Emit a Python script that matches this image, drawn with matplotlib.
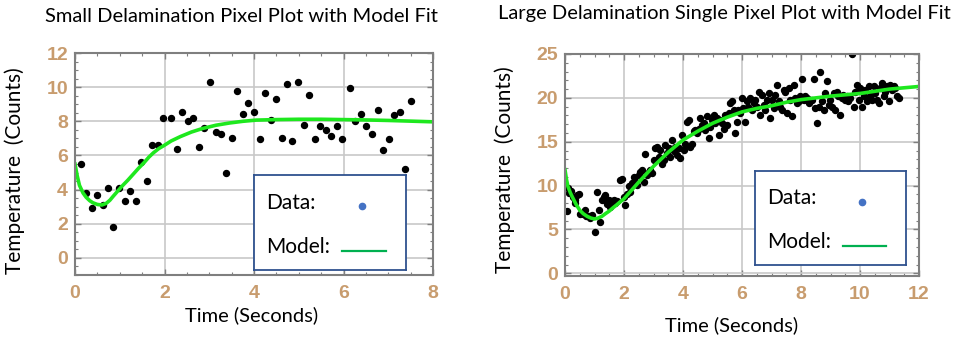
import matplotlib
matplotlib.use("Agg")
import matplotlib.pyplot as plt
from matplotlib.ticker import MultipleLocator

# ---- small delamination pixel (left panel) ----
small_t = [0.13, 0.25, 0.38, 0.50, 0.62, 0.74, 0.86, 0.98, 1.11, 1.23, 1.36, 1.48, 1.60,
           1.73, 1.85, 1.97, 2.15, 2.27, 2.39, 2.52, 2.64, 2.76, 2.88, 3.01, 3.14, 3.26,
           3.38, 3.51, 3.63, 3.75, 3.87, 4.00, 4.13, 4.25, 4.37, 4.49, 4.62, 4.74, 4.86,
           4.99, 5.11, 5.24, 5.36, 5.48, 5.61, 5.73, 5.85, 5.97, 6.14, 6.26, 6.38, 6.51,
           6.64, 6.76, 6.88, 7.01, 7.13, 7.26, 7.37, 7.50]
small_temp = [5.5, 3.8, 2.9, 3.7, 3.1, 4.1, 1.8, 4.1, 3.35, 3.9, 3.35, 5.6, 4.5,
              6.6, 6.6, 8.2, 8.2, 6.4, 8.55, 8.0, 8.2, 6.5, 7.6, 10.3, 7.4, 7.25,
              4.95, 7.05, 9.75, 8.45, 9.1, 8.55, 6.95, 9.65, 8.1, 9.3, 7.05, 10.2, 6.85,
              10.3, 7.8, 9.55, 6.95, 7.7, 7.5, 7.15, 7.7, 6.95, 9.95, 8.0, 8.45, 7.7,
              7.25, 8.65, 6.3, 6.95, 8.35, 8.55, 5.2, 9.2]
small_fit_t = [0.0, 0.05, 0.1, 0.18, 0.25, 0.33, 0.4, 0.5, 0.6, 0.7, 0.78, 0.85, 0.95,
               1.05, 1.18, 1.3, 1.42, 1.55, 1.65, 1.75, 1.87, 2.0, 2.15, 2.35, 2.6,
               2.85, 3.15, 3.45, 3.75, 4.05, 4.5, 5.0, 5.5, 6.0, 6.5, 7.0, 7.5, 8.0]
small_fit = [5.5, 4.8, 4.25, 3.8, 3.55, 3.35, 3.23, 3.13, 3.1, 3.2, 3.38, 3.6, 3.9,
             4.2, 4.55, 4.9, 5.25, 5.6, 5.9, 6.15, 6.4, 6.6, 6.85, 7.1, 7.37,
             7.58, 7.77, 7.9, 8.0, 8.07, 8.1, 8.12, 8.12, 8.1, 8.08, 8.05, 8.01, 7.97]

# ---- large delamination single pixel (right panel) ----
large_t = [0.07, 0.09, 0.15, 0.2, 0.27, 0.35, 0.4, 0.46, 0.35, 0.52, 0.61, 0.69, 0.72,
           0.8, 0.86, 0.91, 1.03, 1.08, 1.14, 1.2, 1.26, 1.31, 1.37, 1.42, 1.48, 1.54,
           1.59, 1.65, 1.71, 1.76, 1.85, 1.93, 1.99, 2.04, 2.1, 2.16, 2.21, 2.27, 2.33,
           2.38, 2.44, 2.5, 2.55, 2.61, 2.67, 2.72, 2.78, 2.84, 2.89, 2.95, 3.0, 3.06,
           3.12, 3.17, 3.23, 3.29, 3.34, 3.4, 3.46, 3.51, 3.57, 3.63, 3.68, 3.74, 3.79,
           3.85, 3.91, 3.96, 4.02, 4.08, 4.13, 4.19, 4.25, 4.3, 4.36, 4.42, 4.47, 4.53,
           4.59, 4.64, 4.7, 4.75, 4.81, 4.87, 4.92, 4.98, 5.04, 5.09, 5.15, 5.21, 5.26,
           5.32, 5.38, 5.43, 5.49, 5.55, 5.6, 5.66, 5.72, 5.77, 5.83, 5.88, 5.94, 6.0,
           6.05, 6.11, 6.17, 6.22, 6.28, 6.34, 6.39, 6.45, 6.51, 6.56, 6.62, 6.68, 6.73,
           6.79, 6.85, 6.9, 6.96, 7.01, 7.07, 7.13, 7.18, 7.24, 7.3, 7.35, 7.41, 7.47,
           7.52, 7.58, 7.64, 7.69, 7.75, 7.81, 7.86, 7.92, 7.98, 8.03, 8.09, 8.14, 8.2,
           8.26, 8.31, 8.37, 8.43, 8.48, 8.54, 8.6, 8.65, 8.71, 8.77, 8.82, 8.88, 8.94,
           8.99, 9.05, 9.11, 9.16, 9.22, 9.27, 9.33, 9.39, 9.44, 9.5, 9.56, 9.61, 9.67,
           9.73, 9.78, 9.84, 9.9, 9.95, 10.01, 10.07, 10.12, 10.18, 10.24, 10.29, 10.35,
           10.4, 10.46, 10.52, 10.57, 10.63, 10.69, 10.74, 10.8, 10.86, 10.91, 10.97,
           11.03, 11.08, 11.14, 11.2, 11.25, 11.31]
large_temp = [7.1, 9.7, 9.2, 9.4, 8.7, 8.4, 8.9, 9.05, 8.0, 6.8, 6.8, 7.2, 6.5,
              6.5, 6.3, 6.65, 4.75, 9.3, 7.2, 5.9, 8.4, 8.7, 8.9, 7.9, 8.4, 7.6,
              8.2, 8.4, 8.0, 8.2, 10.6, 10.8, 8.7, 7.8, 9.1, 9.9, 9.3, 10.3, 11.0,
              10.5, 10.1, 11.2, 11.6, 11.8, 10.4, 13.6, 11.2, 11.6, 11.8, 11.4, 12.9, 14.3,
              14.4, 13.3, 14.1, 12.5, 12.9, 14.6, 13.7, 14.3, 13.3, 15.2, 13.9, 14.4, 13.5,
              14.3, 13.1, 15.8, 14.1, 14.8, 17.3, 17.5, 14.4, 14.8, 16.2, 16.3, 16.0, 16.5,
              17.7, 16.9, 17.1, 16.3, 17.9, 15.4, 16.7, 17.5, 18.1, 17.1, 17.7, 15.8, 17.5,
              17.1, 16.5, 18.1, 16.9, 18.3, 19.4, 19.6, 18.6, 16.0, 17.3, 18.6, 18.3, 20.0,
              18.8, 17.3, 19.6, 19.0, 20.0, 18.6, 19.4, 19.8, 19.0, 20.7, 18.1, 20.3, 19.2,
              18.6, 19.8, 20.5, 17.7, 19.8, 18.8, 20.3, 21.5, 19.6, 19.0, 18.6, 20.9, 20.7,
              18.3, 21.1, 19.8, 17.9, 21.5, 20.0, 19.4, 19.6, 20.2, 22.1, 19.8, 20.2, 20.0,
              19.4, 19.8, 19.8, 22.1, 18.8, 17.1, 19.0, 23.0, 19.6, 18.6, 20.5, 21.9, 19.2,
              19.8, 19.0, 20.5, 18.6, 20.7, 20.2, 18.1, 20.0, 20.3, 19.8, 20.2, 19.6, 20.0,
              25.0, 19.0, 20.7, 21.5, 19.8, 21.1, 19.0, 20.2, 20.9, 19.6, 21.3, 20.2,
              19.8, 21.3, 20.5, 19.8, 19.4, 21.1, 21.7, 20.2, 20.7, 21.3, 19.6, 21.5,
              20.9, 21.3, 21.1, 20.2, 20.0]
large_fit_t = [0.0, 0.05, 0.1, 0.18, 0.25, 0.37, 0.5, 0.62, 0.75, 0.88, 1.0, 1.12,
               1.25, 1.37, 1.5, 1.62, 1.75, 1.87, 2.0, 2.25, 2.5, 2.75, 3.0, 3.25, 3.5,
               3.75, 4.0, 4.5, 5.0, 5.5, 6.0, 6.5, 7.0, 7.5, 8.0, 8.5, 9.0, 9.5, 10.0,
               10.5, 11.0, 11.5, 12.0]
large_fit = [11.8, 10.7, 9.9, 9.2, 8.7, 7.9, 7.2, 6.8, 6.5, 6.3, 6.2, 6.3,
             6.5, 6.8, 7.1, 7.45, 7.8, 8.15, 8.5, 9.45, 10.4, 11.3, 12.2, 13.0, 13.8,
             14.5, 15.2, 16.2, 17.1, 17.8, 18.4, 18.8, 19.1, 19.5, 19.8, 20.0, 20.2,
             20.35, 20.5, 20.75, 21.0, 21.15, 21.3]

W, H = 957, 340
tick_color = "#c89c6e"
text_font = ["Lato", "DejaVu Sans"]
tick_font = ["Liberation Sans", "DejaVu Sans"]
frame_color = "#7f7f7f"
grid_color = "#c8c8c8"
fit_color = "#1ee81e"


def fx(px):
    return px / W


def fy(py):
    return 1 - py / H


def style_axes(ax, xmax, ymin, ymax, ymaj, ymin_step):
    ax.set_xlim(0, xmax)
    ax.set_ylim(ymin, ymax)
    ax.xaxis.set_major_locator(MultipleLocator(2))
    ax.xaxis.set_minor_locator(MultipleLocator(0.5))
    ax.yaxis.set_major_locator(MultipleLocator(ymaj))
    ax.yaxis.set_minor_locator(MultipleLocator(ymin_step))
    ax.grid(True, which="major", color=grid_color, linewidth=1.2)
    ax.set_axisbelow(True)
    for s in ax.spines.values():
        s.set_color(frame_color)
        s.set_linewidth(1.5)
    ax.tick_params(which="both", direction="in", top=True, right=True, color=frame_color)
    ax.tick_params(which="major", length=4, width=1)
    ax.tick_params(which="minor", length=2.5, width=0.8)
    ax.tick_params(axis="x", pad=7, labelcolor=tick_color, labelsize=14)
    ax.tick_params(axis="y", pad=5, labelcolor=tick_color, labelsize=14)
    for lab in ax.get_xticklabels() + ax.get_yticklabels():
        lab.set_family(tick_font)
        lab.set_fontweight("bold")


def add_legend(box):
    x0, y0, x1, y1 = box
    lg = fig.add_axes([fx(x0), fy(y1), fx(x1 - x0), (y1 - y0) / H])
    lg.set_xlim(0, 1)
    lg.set_ylim(0, 1)
    lg.set_xticks([])
    lg.set_yticks([])
    for s in lg.spines.values():
        s.set_color("#2f528f")
        s.set_linewidth(1.3)
    lg.text(0.08, 0.71, "Data:", family=text_font, fontsize=15, va="center")
    lg.text(0.08, 0.24, "Model:", family=text_font, fontsize=15, va="center")
    lg.plot([0.71], [0.67], "o", color="#4472c4", ms=4.5)
    lg.plot([0.58, 0.87], [0.205, 0.205], color="#00b050", lw=1.6)


fig = plt.figure(figsize=(W / 100, H / 100), dpi=100)

ax1 = fig.add_axes([fx(75), fy(275), fx(433 - 75), (275 - 53) / H])
ax1.plot(small_t, small_temp, "o", color="black", ms=4.3)
ax1.plot(small_fit_t, small_fit, color=fit_color, lw=2.6)
style_axes(ax1, 8, -1, 12, 2, 0.5)

ax2 = fig.add_axes([fx(565), fy(276), fx(919 - 565), (276 - 54) / H])
ax2.plot(large_t, large_temp, "o", color="black", ms=4.3)
ax2.plot(large_fit_t, large_fit, color=fit_color, lw=2.6)
style_axes(ax2, 12, -0.3, 25, 5, 1)

fig.text(fx(241), fy(17), "Small Delamination Pixel Plot with Model Fit",
         family=text_font, fontsize=14.5, ha="center", va="center")
fig.text(fx(724), fy(13), "Large Delamination Single Pixel Plot with Model Fit",
         family=text_font, fontsize=14.5, ha="center", va="center")
fig.text(fx(15), fy(171), "Temperature  (Counts)", family=text_font, fontsize=15,
         rotation=90, ha="center", va="center")
fig.text(fx(505), fy(170), "Temperature  (Counts)", family=text_font, fontsize=15,
         rotation=90, ha="center", va="center")
fig.text(fx(252), fy(315), "Time (Seconds)", family=text_font, fontsize=14.5,
         ha="center", va="center")
fig.text(fx(732), fy(325), "Time (Seconds)", family=text_font, fontsize=14.5,
         ha="center", va="center")

add_legend((254, 175, 406, 270))
add_legend((755, 171, 906, 265))

fig.savefig("out.png", dpi=100)
